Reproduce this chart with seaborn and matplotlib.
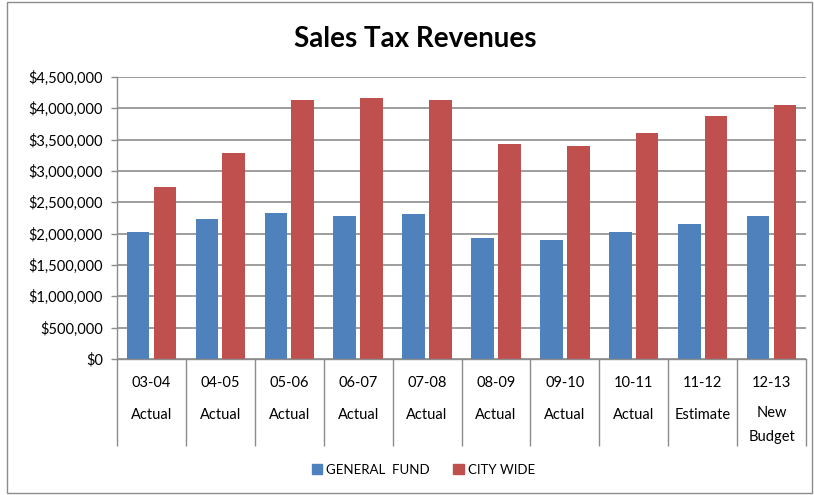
""" Sales tax revenues: general fund vs city wide, grouped bars """
import numpy as np
import pandas as pd
import matplotlib
matplotlib.use("Agg")
import matplotlib.pyplot as plt
import matplotlib.patches as mpatches
from matplotlib.ticker import FuncFormatter, FixedLocator
import seaborn as sns

years = ["03-04", "04-05", "05-06", "06-07", "07-08",
         "08-09", "09-10", "10-11", "11-12", "12-13"]
kinds = ["Actual", "Actual", "Actual", "Actual", "Actual",
         "Actual", "Actual", "Actual", "Estimate", "New\nBudget"]
general_fund = [2030000, 2235000, 2335000, 2280000, 2315000,
                1925000, 1905000, 2030000, 2155000, 2280000]
city_wide = [2750000, 3290000, 4140000, 4160000, 4140000,
             3435000, 3395000, 3600000, 3870000, 4055000]
series_names = ["GENERAL  FUND", "CITY WIDE"]
colors = ["#4F81BD", "#C0504D"]

df = pd.DataFrame({
    "period": years * 2,
    "value": general_fund + city_wide,
    "series": [series_names[0]] * len(years) + [series_names[1]] * len(years),
})

sns.set_style("white")
plt.rcParams["font.family"] = ["Lato", "DejaVu Sans"]
plt.rcParams["text.color"] = "black"
plt.rcParams["ytick.labelcolor"] = "black"

W, H = 814, 495
fig = plt.figure(figsize=(W / 100, H / 100), dpi=100)
ax = fig.add_axes([117 / W, (H - 359) / H, (806 - 117) / W, (359 - 77) / H])

sns.barplot(data=df, x="period", y="value", hue="series", palette=colors,
            width=0.78, gap=0.16, ax=ax, saturation=1, linewidth=0)

ax.set_xlim(-0.5, len(years) - 0.5)
ax.set_ylim(0, 4500000)
ax.set_yticks(np.arange(0, 4500001, 500000))
ax.yaxis.set_major_formatter(FuncFormatter(lambda v, p: "${:,.0f}".format(v)))
ax.grid(axis="y", color="#8c8c8c", linewidth=1.2)
ax.set_axisbelow(True)
ax.set_xlabel("")
ax.set_ylabel("")

for side in ["top", "right"]:
    ax.spines[side].set_visible(False)
for side in ["left", "bottom"]:
    ax.spines[side].set_color("#8c8c8c")
    ax.spines[side].set_linewidth(1.0)

ax.tick_params(axis="y", left=True, length=4, width=1, color="#8c8c8c",
               labelsize=10.5, pad=6, labelcolor="black")

# category table below the axis
ax.set_xticks(range(len(years)))
ax.set_xticklabels([""] * len(years))
ax.tick_params(axis="x", which="major", length=0)
ax.xaxis.set_minor_locator(FixedLocator(np.arange(-0.5, len(years), 1.0)))
ax.tick_params(axis="x", which="minor", bottom=True, length=87 * 0.72,
               width=1, color="#8c8c8c")

for i, (yr, kd) in enumerate(zip(years, kinds)):
    ax.annotate(yr, xy=(i, 0), xycoords=("data", "axes fraction"),
                xytext=(0, -24 * 0.72), textcoords="offset points",
                ha="center", va="center", fontsize=10.5, color="black")
    lines = kd.split("\n")
    for j, ln in enumerate(lines):
        off = 56 if len(lines) == 1 else 54 + 24 * j
        ax.annotate(ln, xy=(i, 0), xycoords=("data", "axes fraction"),
                    xytext=(0, -off * 0.72), textcoords="offset points",
                    ha="center", va="center", fontsize=10.5, color="black")

fig.text(0.51, (H - 39) / H, "Sales Tax Revenues", ha="center", va="center",
         fontsize=20, fontweight="bold", color="black")

handles = [mpatches.Patch(color=c) for c in colors]
ax.legend(handles, series_names, loc="center", ncol=2, frameon=False,
          bbox_to_anchor=(0.52, (H - 470) / H), bbox_transform=fig.transFigure,
          handlelength=0.8, handleheight=0.8, handletextpad=0.3,
          columnspacing=1.8, fontsize=9.5, labelcolor="black")

fig.patches.append(mpatches.Rectangle((7 / W, 2 / H), (812 - 7) / W, (493 - 2) / H,
                                      transform=fig.transFigure, fill=False,
                                      edgecolor="#8c8c8c", linewidth=1))

fig.savefig("out.png", dpi=100)
